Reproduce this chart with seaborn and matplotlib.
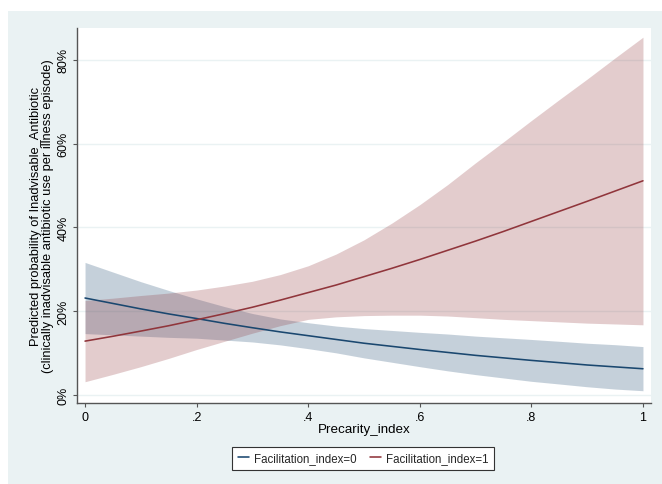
import matplotlib
matplotlib.use("Agg")
import matplotlib.pyplot as plt
from matplotlib.patches import Rectangle
from matplotlib.lines import Line2D
import seaborn as sns
import pandas as pd

# ---- data ----
precarity = [0.00, 0.05, 0.10, 0.15, 0.20, 0.25, 0.30, 0.35, 0.40, 0.45, 0.50,
             0.55, 0.60, 0.65, 0.70, 0.75, 0.80, 0.85, 0.90, 0.95, 1.00]

fac0_pred = [0.231, 0.218, 0.205, 0.193, 0.182, 0.1705, 0.160, 0.150, 0.141, 0.132, 0.123,
             0.1155, 0.108, 0.101, 0.094, 0.088, 0.082, 0.0766, 0.071, 0.0665, 0.062]
fac0_hi = [0.316, 0.293, 0.270, 0.249, 0.229, 0.2105, 0.194, 0.181, 0.172, 0.164, 0.158,
           0.1535, 0.149, 0.145, 0.140, 0.136, 0.132, 0.1276, 0.123, 0.1195, 0.115]
fac0_lo = [0.146, 0.143, 0.140, 0.137, 0.135, 0.1305, 0.126, 0.119, 0.110, 0.100, 0.088,
           0.0775, 0.067, 0.057, 0.048, 0.040, 0.032, 0.0256, 0.019, 0.0135, 0.0095]

fac1_pred = [0.128, 0.1396, 0.152, 0.1648, 0.179, 0.1936, 0.209, 0.226, 0.244, 0.262, 0.282,
             0.302, 0.323, 0.345, 0.367, 0.390, 0.414, 0.438, 0.462, 0.4865, 0.511]
fac1_hi = [0.225, 0.2306, 0.237, 0.2428, 0.250, 0.2596, 0.271, 0.287, 0.308, 0.336, 0.370,
           0.410, 0.454, 0.502, 0.554, 0.604, 0.655, 0.705, 0.754, 0.8045, 0.854]
fac1_lo = [0.031, 0.0486, 0.067, 0.0868, 0.108, 0.1276, 0.147, 0.165, 0.180, 0.186, 0.189,
           0.190, 0.190, 0.188, 0.184, 0.180, 0.177, 0.174, 0.171, 0.169, 0.167]

groups = ["Facilitation_index=0", "Facilitation_index=1"]
x_ticks = [0, 0.2, 0.4, 0.6, 0.8, 1.0]
x_ticklabels = ["0", ".2", ".4", ".6", ".8", "1"]
y_ticks = [0, 0.2, 0.4, 0.6, 0.8]
y_ticklabels = ["0%", "20%", "40%", "60%", "80%"]

navy = "#1a476f"
maroon = "#90353b"
bg = "#eaf2f3"

df = pd.DataFrame({
    "Precarity_index": precarity + precarity,
    "prob": fac0_pred + fac1_pred,
    "group": [groups[0]] * len(precarity) + [groups[1]] * len(precarity),
})

sns.set_theme(style="white")
plt.rcParams["font.family"] = ["Liberation Sans", "DejaVu Sans"]

W, H = 662, 485
fig = plt.figure(figsize=(W / 100, H / 100), dpi=100, facecolor="white")
fig.patches.append(Rectangle((8 / W, 0), (W - 8) / W, (H - 12) / H,
                             transform=fig.transFigure, facecolor=bg,
                             edgecolor="none", zorder=-5))

ax = fig.add_axes([77 / W, (H - 404) / H, (651 - 77) / W, (404 - 29) / H])
ax.set_zorder(1)
ax.set_facecolor("white")

ax.fill_between(precarity, fac0_lo, fac0_hi, color=navy, alpha=0.25, lw=0, zorder=2)
ax.fill_between(precarity, fac1_lo, fac1_hi, color=maroon, alpha=0.25, lw=0, zorder=2)
sns.lineplot(data=df, x="Precarity_index", y="prob", hue="group",
             palette=[navy, maroon], linewidth=1.15, ax=ax, legend=False, zorder=3)

ax.set_xlim(-0.0144, 1.0144)
ax.set_ylim(-0.0198, 0.876)
ax.set_xticks(x_ticks)
ax.set_xticklabels(x_ticklabels)
ax.set_yticks(y_ticks)
ax.set_yticklabels(y_ticklabels, rotation=90, va="center")

ax.yaxis.grid(True, color=bg, linewidth=1.0, zorder=1)
ax.xaxis.grid(False)
ax.set_axisbelow(True)

for s in ["top", "right"]:
    ax.spines[s].set_visible(False)
for s in ["left", "bottom"]:
    ax.spines[s].set_color("#555555")
    ax.spines[s].set_linewidth(1.0)

ax.tick_params(axis="both", direction="out", length=3, width=0.8,
               color="#555555", labelsize=9, labelcolor="black", pad=2.5)
ax.tick_params(axis="both", which="both", bottom=True, left=True)

ax.set_xlabel("Precarity_index", fontsize=9.6, labelpad=0.5, color="black")
ax.set_ylabel("Predicted probability of Inadvisable_Antibiotic\n"
              "(clinically inadvisable antibiotic use per illness episode)",
              fontsize=9.3, labelpad=2.5, color="black", linespacing=0.95)

handles = [Line2D([], [], color=navy, lw=1.15), Line2D([], [], color=maroon, lw=1.15)]
leg = fig.legend(handles, groups, loc="center", ncol=2,
                 bbox_to_anchor=(363 / W, 1 - 459.5 / H), fontsize=8.3,
                 frameon=True, fancybox=False, framealpha=1, edgecolor="#333333",
                 handlelength=0.95, handletextpad=0.46, columnspacing=1.15,
                 borderpad=0.5)
leg.get_frame().set_linewidth(0.8)
leg.get_frame().set_facecolor("white")

fig.savefig("out.png", dpi=100, facecolor="white")
